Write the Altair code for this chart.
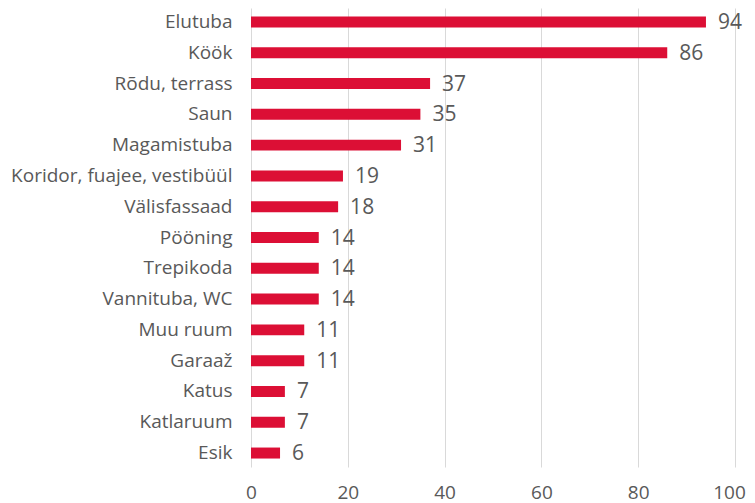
import altair as alt
import pandas as pd

categories = ["Elutuba", "Köök", "Rõdu, terrass", "Saun\u00a0", "Magamistuba",
              "Koridor, fuajee, vestibüül", "Välisfassaad", "Pööning", "Trepikoda",
              "Vannituba, WC", "Muu ruum", "Garaaž", "Katus", "Katlaruum", "Esik"]
values = [94, 86, 37, 35, 31, 19, 18, 14, 14, 14, 11, 11, 7, 7, 6]
x_ticks = [0, 20, 40, 60, 80, 100]

df = pd.DataFrame({"cat": categories, "val": values})

FONT = "Open Sans"
GRAY = "#595959"

y_enc = alt.Y("cat:N", sort=categories,
              scale=alt.Scale(paddingInner=0.643, paddingOuter=0.275),
              axis=alt.Axis(title=None, domain=False, ticks=False, grid=False,
                            labelFont=FONT, labelFontSize=19, labelColor=GRAY,
                            labelPadding=19, labelLimit=400))
x_enc = alt.X("val:Q", scale=alt.Scale(domain=[0, 100], nice=False),
              axis=alt.Axis(title=None, values=x_ticks, domain=False, ticks=False,
                            grid=True, gridColor="#d9d9d9", gridWidth=1,
                            labelFont=FONT, labelFontSize=19, labelColor=GRAY,
                            labelPadding=16, labelFlush=False,
                            labelOffset={"condition": {"test": "datum.value == 100", "value": -6},
                                         "value": 0}))

bars = alt.Chart(df).mark_bar(color="#DC0F35").encode(x=x_enc, y=y_enc)
text = alt.Chart(df).mark_text(align="left", baseline="middle", dx=12, dy=1,
                               font=FONT, fontSize=21, color=GRAY).encode(
    x=alt.X("val:Q"), y=alt.Y("cat:N", sort=categories), text=alt.Text("val:Q"))

chart = (bars + text).properties(
    width=484, height=459,
    autosize=alt.AutoSizeParams(type="none"),
    padding={"left": 243, "top": 0, "right": 12, "bottom": 36},
).configure_view(stroke=None)

chart.save("out.html", embed_options={"renderer": "svg", "actions": False})
